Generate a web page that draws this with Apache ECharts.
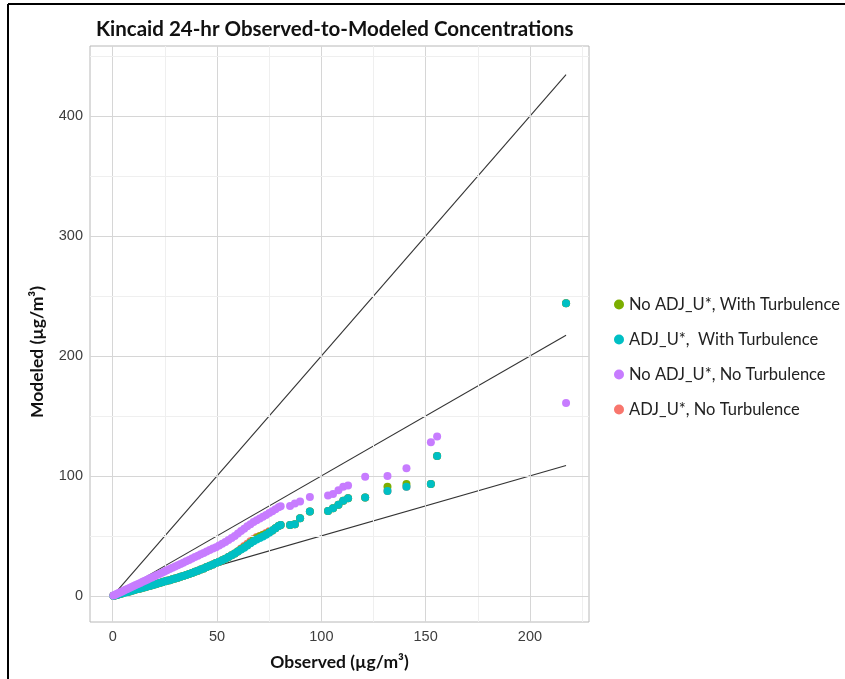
<!DOCTYPE html>
<html><head><meta charset="utf-8">
<script src="https://cdn.jsdelivr.net/npm/echarts@6/dist/echarts.min.js"></script>
<style>html,body{margin:0;padding:0;background:#fff}#c{width:845px;height:679px}</style>
</head><body><div id="c"></div>
<script>
// Observed (sorted) concentrations shared by all runs (Q-Q style)
const observed = [0.3,1,1.8,2.6,3.4,4.3,5.2,6.1,7,8,9,10,11,12.1,13.2,14.3,15.4,16.5,17.6,18.8,20,21.2,22.4,23.6,24.8,26,27.3,28.6,29.9,31.2,32.5,33.8,35.2,36.6,38,39.4,40.8,42.2,43.6,45,46.5,48,49.5,51,52.5,54,55.5,57,58.5,60,61.5,63,64.5,66,67.5,69,70.5,72,73.5,75,76.5,78,79.5,80.5,85,87.3,89.8,94.5,103.2,105.6,108.2,110.5,112.8,121,131.7,140.8,152.5,155.5,217.3];
const noAdjNoTurb = [0.2,0.8,1.5,2.1,2.8,3.5,4.3,5,5.7,6.6,7.4,8.2,9,9.9,10.8,11.7,12.6,13.5,14.4,15.4,16.4,17.3,18.3,19.3,20.3,21.3,22.3,23.4,24.4,25.5,26.6,27.6,28.8,30,31.1,32.3,33.5,34.6,35.8,37,38.2,39.4,40.6,42,43.5,45,46.6,48.3,50,52,54,56,58,59.8,61.5,63,64.5,66,67.4,69,70.6,72.2,73.8,74.8,75,77,78.6,82.5,83.6,85,88,91,92,99.4,100,106.4,128,132.8,160.8];
const adjWithTurb = [0.1,0.4,0.8,1.2,1.6,2,2.4,2.8,3.2,3.7,4.2,4.7,5.2,5.7,6.2,6.7,7.2,7.7,8.3,8.9,9.5,10.1,10.7,11.3,11.9,12.5,13.1,13.8,14.5,15.2,15.9,16.6,17.4,18.2,19.1,20,20.9,21.9,22.9,24,25.1,26.2,27.3,28.4,29.6,30.9,32.3,33.8,35.4,37,38.6,40.2,42,43.8,45.5,47,48.3,49.5,51,52.6,54.4,56.3,58.2,59,59,59.7,64.7,70.3,70.8,73,76,79.4,81.4,82,87.5,91,93.3,116.7,244];
const noAdjWithTurb = [0.1,0.4,0.8,1.2,1.6,2,2.4,2.8,3.2,3.7,4.2,4.7,5.2,5.7,6.2,6.7,7.2,7.7,8.3,8.9,9.5,10.1,10.7,11.3,11.9,12.5,13.1,13.8,14.5,15.2,15.9,16.6,17.4,18.2,19.1,20,20.9,21.9,22.9,24,25.1,26.2,27.3,28.4,29.6,30.9,32.3,33.8,35.4,37.2,38.8,40.5,42.3,44.2,46.5,48.2,49.6,50.8,51.6,53,54.6,56.4,58.2,59,59,59.7,64.7,70.3,70.8,73,76,79.4,81.4,82,91,93.3,93.3,116.7,244];
const adjNoTurb = [0.1,0.4,0.8,1.2,1.6,2,2.4,2.8,3.2,3.7,4.2,4.7,5.2,5.7,6.2,6.7,7.2,7.7,8.3,8.9,9.5,10.1,10.7,11.3,11.9,12.5,13.1,13.8,14.5,15.2,15.9,16.6,17.4,18.2,19.1,20,20.9,21.9,22.9,24,25.1,26.2,27.3,28.4,29.6,30.9,32.3,33.8,35.4,37,39.5,41.5,43.5,45.5,47.5,49,50,51,52.4,53.8,54.4,56.3,58.2,59,59,59.7,64.7,70.3,70.8,73,76,79.4,81.4,82,87.5,91,93.3,116.7,244];

// Reference lines (factor-of-2 and 1:1)
const lineTwo = [[0,0],[217.3,434.6]];
const lineOne = [[0,0],[217.3,217.3]];
const lineHalf = [[0,0],[217.3,108.65]];

const xTicks = [0,50,100,150,200];
const xMinor = [25,75,125,175,225];
const yTicks = [0,100,200,300,400];
const yMinor = [50,150,250,350,450];

const seriesNames = ['No ADJ_U*, With Turbulence','ADJ_U*,  With Turbulence','No ADJ_U*, No Turbulence','ADJ_U*, No Turbulence'];
const colors = {'No ADJ_U*, With Turbulence':'#7CAE00','ADJ_U*,  With Turbulence':'#00BFC4','No ADJ_U*, No Turbulence':'#C77CFF','ADJ_U*, No Turbulence':'#F8766D'};

const pair = ys => observed.map((x,i)=>[x,ys[i]]);

const chart = echarts.init(document.getElementById('c'));
const gridLines = [];
xTicks.forEach(v=>gridLines.push({xAxis:v,lineStyle:{color:'#d6d6d6',width:1,type:'solid'}}));
xMinor.forEach(v=>gridLines.push({xAxis:v,lineStyle:{color:'#efefef',width:1,type:'solid'}}));
yTicks.forEach(v=>gridLines.push({yAxis:v,lineStyle:{color:'#d6d6d6',width:1,type:'solid'}}));
yMinor.forEach(v=>gridLines.push({yAxis:v,lineStyle:{color:'#efefef',width:1,type:'solid'}}));

const pointSeries = (name, ys, z) => ({
  name, type:'scatter', data: pair(ys), symbol:'circle', symbolSize:8, z,
  itemStyle:{color:colors[name], opacity:1}, silent:true, animation:false
});
const refLine = (data) => ({type:'line', data, symbol:'none', z:2, silent:true, animation:false,
  lineStyle:{color:'#333', width:1.1}});

chart.setOption({
  animation:false,
  backgroundColor:'#fff',
  title:{text:'Kincaid 24-hr Observed-to-Modeled Concentrations', left:91, top:14,
    textStyle:{fontFamily:'Lato', fontWeight:'bold', fontSize:20.5, color:'#111'}},
  grid:{left:90, right:256, top:46, bottom:57, show:true, borderColor:'#b8b8b8', borderWidth:1, backgroundColor:'#fff'},
  xAxis:{type:'value', min:-10.9, max:228.3,
    name:'Observed (µg/m³)', nameLocation:'middle', nameGap:31,
    nameTextStyle:{fontFamily:'Lato', fontWeight:'bold', fontSize:17.5, color:'#111'},
    axisLine:{show:false}, splitLine:{show:false},
    axisTick:{show:true, length:4, customValues:xTicks, lineStyle:{color:'#555'}},
    axisLabel:{customValues:xTicks, margin:7, fontFamily:'Liberation Sans', fontSize:14.5, color:'#3d3d3d'}},
  yAxis:{type:'value', min:-21.8, max:458.5,
    name:'Modeled (µg/m³)', nameLocation:'middle', nameGap:44,
    nameTextStyle:{fontFamily:'Lato', fontWeight:'bold', fontSize:17.5, color:'#111', padding:[0,36,0,0]},
    axisLine:{show:false}, splitLine:{show:false},
    axisTick:{show:true, length:4, customValues:yTicks, lineStyle:{color:'#555'}},
    axisLabel:{customValues:yTicks, margin:7, fontFamily:'Liberation Sans', fontSize:14.5, color:'#3d3d3d'}},
  legend:{data:seriesNames, orient:'vertical', left:609, top:290, itemWidth:10, itemHeight:10, itemGap:16,
    icon:'circle', textStyle:{fontFamily:'Lato', fontSize:16.5, color:'#222', lineHeight:19}},
  graphic:[
    {type:'line', shape:{x1:8,y1:4,x2:845,y2:4}, style:{stroke:'#000', lineWidth:2}},
    {type:'line', shape:{x1:8,y1:4,x2:8,y2:679}, style:{stroke:'#000', lineWidth:2}}
  ],
  series:[
    {type:'line', data:[], symbol:'none', z:1, silent:true,
      markLine:{silent:true, symbol:'none', label:{show:false}, animation:false, data:gridLines}},
    refLine(lineTwo), refLine(lineOne), refLine(lineHalf),
    pointSeries('ADJ_U*, No Turbulence', adjNoTurb, 3),
    pointSeries('No ADJ_U*, With Turbulence', noAdjWithTurb, 4),
    pointSeries('ADJ_U*,  With Turbulence', adjWithTurb, 5),
    pointSeries('No ADJ_U*, No Turbulence', noAdjNoTurb, 6)
  ]
});
</script></body></html>
